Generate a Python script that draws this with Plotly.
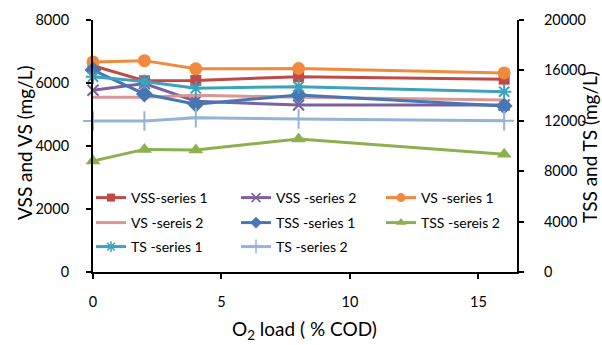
import plotly.graph_objects as go

o2_load = [0, 2, 4, 8, 16]

vss_series1 = [6550, 6070, 6080, 6200, 6120]
vss_series2 = [5770, 5980, 5420, 5300, 5300]
vs_series1 = [6670, 6710, 6450, 6460, 6320]
vs_sereis2 = [5550, 5550, 5610, 5550, 5460]

tss_series1 = [16030, 14130, 13310, 14050, 13180]
tss_sereis2 = [8810, 9730, 9680, 10560, 9340]
ts_series1 = [15500, 15110, 14580, 14710, 14310]
ts_series2 = [11980, 11980, 12250, 12140, 12010]

left_ticks = [0, 2000, 4000, 6000, 8000]
right_ticks = [0, 4000, 8000, 12000, 16000, 20000]
x_ticks = [0, 5, 10, 15]

x_title = "O<sub>2</sub> load ( % COD)"
left_title = "VSS and VS (mg/L)"
right_title = "TSS and TS (mg/L)"

FONT = "Lato"

series = [
    # name, y, axis, color, symbol, size, legend-marker size, legend
    ("VSS-series 1", vss_series1, "y", "#BE4B48", "square", 11, 8, "legend"),
    ("VSS -series 2", vss_series2, "y", "#7D60A0", "x-thin", 11, 9, "legend2"),
    ("VS -series 1", vs_series1, "y", "#F08A3C", "circle", 13, 9, "legend3"),
    ("VS -sereis 2", vs_sereis2, "y", "#D99694", None, 0, 0, "legend4"),
    ("TSS -series 1", tss_series1, "y2", "#4677B4", "diamond", 13, 9, "legend5"),
    ("TSS -sereis 2", tss_sereis2, "y2", "#8DB04F", "triangle-up", 13, 9, "legend6"),
    ("TS -series 1", ts_series1, "y2", "#3DA2BD", "asterisk", 12, 9, "legend7"),
    ("TS -series 2", ts_series2, "y2", "#95B3D7", "cross-thin", 14, 10, "legend8"),
]

fig = go.Figure()
for name, yv, ax, color, sym, size, lsize, lg in series:
    if sym is None:
        mode = "lines"
        marker = None
        lmarker = None
    else:
        mode = "lines+markers"
        thin = sym in ("x-thin", "asterisk", "cross-thin")
        marker = dict(symbol=sym, size=size, color=color,
                      line=dict(color=color, width=2 if thin else 0))
        lmarker = dict(symbol=sym, size=lsize, color=color,
                       line=dict(color=color, width=1.5 if thin else 0))
    fig.add_trace(go.Scatter(
        x=o2_load, y=yv, name=name, yaxis=ax, mode=mode,
        line=dict(color=color, width=3), marker=marker,
        cliponaxis=False, showlegend=False,
    ))
    # legend proxy entry (no data) with smaller marker, as in the reference
    fig.add_trace(go.Scatter(
        x=[None], y=[None], name=name, yaxis=ax, mode=mode,
        line=dict(color=color, width=3), marker=lmarker,
        showlegend=True, legend=lg, hoverinfo="skip",
    ))

# legend placement (3 columns x 3 rows)
W, H = 602, 345
L, R, T, B = 93, 85, 20, 73
pw, ph = W - L - R, H - T - B
col_px = [91, 236, 381]
row_px = [198, 223, 247]
positions = [(0, 0), (1, 0), (2, 0), (0, 1), (1, 1), (2, 1), (0, 2), (1, 2)]
legend_names = ["legend"] + [f"legend{i}" for i in range(2, 9)]
layout_legends = {}
for lname, (c, r) in zip(legend_names, positions):
    layout_legends[lname] = dict(
        x=(col_px[c] - L) / pw, y=(H - B - row_px[r]) / ph,
        xanchor="left", yanchor="middle",
        bgcolor="rgba(0,0,0,0)", borderwidth=0,
        font=dict(family=FONT, size=14, color="#000000"),
        itemwidth=30, visible=True,
    )


def px_x(p):
    return (p - L) / pw


def px_y(p):
    return (H - B - p) / ph


annotations = [
    dict(text=x_title, x=px_x(304), y=px_y(330), xref="paper", yref="paper",
         showarrow=False, xanchor="center", yanchor="middle",
         font=dict(family=FONT, size=19, color="black")),
    dict(text=left_title, x=px_x(24), y=px_y(143), xref="paper", yref="paper",
         showarrow=False, xanchor="center", yanchor="middle", textangle=-90,
         font=dict(family=FONT, size=19, color="black")),
    dict(text=right_title, x=px_x(589), y=px_y(147), xref="paper", yref="paper",
         showarrow=False, xanchor="center", yanchor="middle", textangle=-90,
         font=dict(family=FONT, size=19, color="black")),
]

fig.update_layout(
    width=W, height=H, showlegend=True,
    margin=dict(l=L, r=R, t=T, b=B, autoexpand=False),
    paper_bgcolor="white", plot_bgcolor="white",
    font=dict(family=FONT, size=14.5, color="#000000"),
    xaxis=dict(
        range=[0, 16.5], tickvals=x_ticks, showgrid=False, zeroline=False,
        showline=True, linecolor="black", linewidth=2, automargin=False,
        ticks="outside", ticklen=5, tickwidth=2, tickcolor="black",
        ticklabelstandoff=11,
    ),
    yaxis=dict(
        range=[0, 8000], tickvals=left_ticks, showgrid=False, zeroline=False,
        showline=True, linecolor="black", linewidth=2, automargin=False,
        ticks="outside", ticklen=5, tickwidth=2, tickcolor="black",
        ticklabelstandoff=14, tickformat="d",
    ),
    yaxis2=dict(
        range=[0, 20000], tickvals=right_ticks, overlaying="y", side="right",
        showgrid=False, zeroline=False, automargin=False,
        showline=True, linecolor="black", linewidth=2,
        ticks="outside", ticklen=5, tickwidth=2, tickcolor="black",
        ticklabelstandoff=17, tickformat="d",
    ),
    annotations=annotations,
    **layout_legends,
)

fig.write_html("out.html", config={"displayModeBar": False},
               post_script="document.body.style.margin='0';")
